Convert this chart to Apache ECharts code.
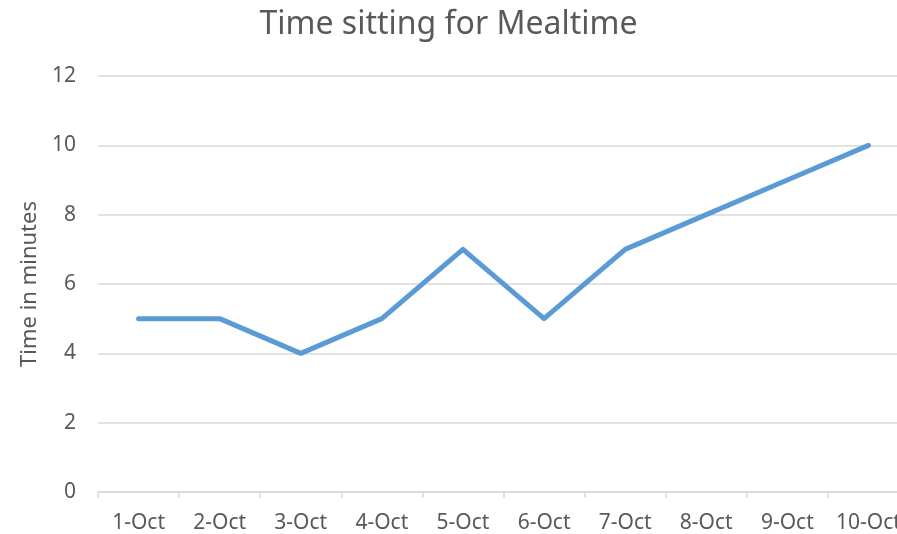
<!DOCTYPE html>
<html><head><meta charset="utf-8">
<script src="https://cdn.jsdelivr.net/npm/echarts@6/dist/echarts.min.js"></script>
<style>html,body{margin:0;padding:0;background:#fff}#c{width:897px;height:534px}</style>
</head><body><div id="c"></div>
<script>
const categories = ['1-Oct','2-Oct','3-Oct','4-Oct','5-Oct','6-Oct','7-Oct','8-Oct','9-Oct','10-Oct'];
const minutes = [5,5,4,5,7,5,7,8,9,10];
const yTicks = {min:0, max:12, interval:2};
const FONT = 'Noto Sans';
const chart = echarts.init(document.getElementById('c'), null, {renderer:'canvas'});
chart.setOption({
  animation:false,
  backgroundColor:'#fff',
  title:{text:'Time sitting for Mealtime', left:'center', top:4,
    textStyle:{fontFamily:FONT, fontSize:32, fontWeight:'normal', color:'#595959'}},
  grid:{left:98, top:76, width:811, height:416, containLabel:false, outerBoundsMode:'none'},
  xAxis:{type:'category', data:categories, boundaryGap:true,
    axisLine:{lineStyle:{color:'#d9d9d9', width:1.5}},
    axisTick:{show:true, interval:0, length:6, lineStyle:{color:'#d9d9d9', width:1.5}},
    axisLabel:{interval:0, hideOverlap:false, fontFamily:FONT, fontSize:21, color:'#595959', margin:21}},
  yAxis:{type:'value', min:yTicks.min, max:yTicks.max, interval:yTicks.interval,
    name:'Time in minutes', nameLocation:'middle', nameGap:57, nameRotate:90,
    nameTextStyle:{fontFamily:FONT, fontSize:22, color:'#595959'},
    axisLine:{show:false}, axisTick:{show:false},
    splitLine:{lineStyle:{color:'#d9d9d9', width:1.5}},
    axisLabel:{fontFamily:FONT, fontSize:21, color:'#595959', margin:22}},
  series:[{type:'line', data:minutes, showSymbol:false, symbol:'none',
    lineStyle:{color:'#5b9bd5', width:5, cap:'round', join:'round'}}]
});
</script></body></html>
